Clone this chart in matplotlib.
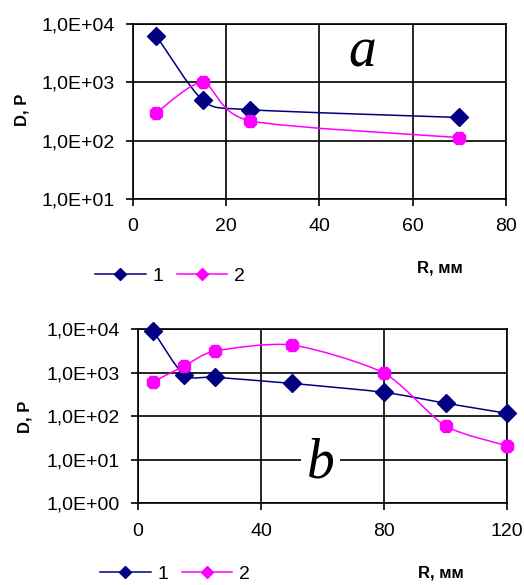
import numpy as np
import matplotlib
matplotlib.use("Agg")
import matplotlib.pyplot as plt
from matplotlib.path import Path
from matplotlib.patches import PathPatch
from matplotlib.lines import Line2D
from matplotlib.ticker import FixedLocator, FixedFormatter, NullLocator

plt.rcParams['font.family'] = ['Liberation Sans', 'DejaVu Sans']

# ---- data ----
r_a = [5, 15, 25, 70]
d_a1 = [6300, 490, 340, 250]
d_a2 = [300, 1000, 220, 113]

r_b = [5, 15, 25, 50, 80, 100, 120]
d_b1 = [9100, 890, 790, 570, 355, 200, 117]
d_b2 = [625, 1430, 3150, 4350, 980, 60, 21]

yticks_a = [1e1, 1e2, 1e3, 1e4]
ylabels_a = ["1,0E+01", "1,0E+02", "1,0E+03", "1,0E+04"]
xticks_a = [0, 20, 40, 60, 80]

yticks_b = [1e0, 1e1, 1e2, 1e3, 1e4]
ylabels_b = ["1,0E+00", "1,0E+01", "1,0E+02", "1,0E+03", "1,0E+04"]
xticks_b = [0, 40, 80, 120]

series_names = ["1", "2"]
c1 = "#000080"
c2 = "#FF00FF"

fig = plt.figure(figsize=(5.24, 5.85), dpi=100)


def smooth_path(x, y, k=1.0 / 8.0):
    # smoothed line: cubic Bezier in (x, log10 y) space
    lx = np.asarray(x, float)
    ly = np.log10(np.asarray(y, float))
    n = len(lx)
    verts = [(lx[0], ly[0])]
    codes = [Path.MOVETO]
    for i in range(n - 1):
        p0 = np.array([lx[max(i - 1, 0)], ly[max(i - 1, 0)]])
        p1 = np.array([lx[i], ly[i]])
        p2 = np.array([lx[i + 1], ly[i + 1]])
        p3 = np.array([lx[min(i + 2, n - 1)], ly[min(i + 2, n - 1)]])
        c_a = p1 + (p2 - p0) * k
        c_b = p2 - (p3 - p1) * k
        verts += [tuple(c_a), tuple(c_b), tuple(p2)]
        codes += [Path.CURVE4] * 3
    verts = [(vx, 10 ** vy) for vx, vy in verts]
    return Path(verts, codes)


def setup(ax, xlim, xticks, ylim, yticks, ylabels):
    ax.set_yscale('log')
    ax.set_xlim(*xlim)
    ax.set_ylim(*ylim)
    ax.xaxis.set_major_locator(FixedLocator(xticks))
    ax.yaxis.set_major_locator(FixedLocator(yticks))
    ax.yaxis.set_major_formatter(FixedFormatter(ylabels))
    ax.yaxis.set_minor_locator(NullLocator())
    ax.xaxis.set_minor_locator(NullLocator())
    ax.grid(True, color='black', lw=1.2)
    for s in ax.spines.values():
        s.set_color('black')
        s.set_linewidth(1.2)
    ax.tick_params(axis='y', direction='out', length=5, width=1.2,
                   labelsize=14, pad=8)
    ax.tick_params(axis='x', direction='out', length=5, width=1.2,
                   labelsize=14, pad=9)


def draw_series(ax, x, y, color, marker, ms):
    ax.add_patch(PathPatch(smooth_path(x, y), facecolor='none',
                           edgecolor=color, lw=1.1, zorder=3))
    ax.plot(x, y, ls='none', marker=marker, color=color, ms=ms,
            mec=color, zorder=4, clip_on=False)


# ---- panel a ----
axA = fig.add_axes([0.2538, 0.6598, 0.7118, 0.2991])
setup(axA, (0, 80), xticks_a, (1e1, 1e4), yticks_a, ylabels_a)
draw_series(axA, r_a, d_a1, c1, 'D', 9)
draw_series(axA, r_a, d_a2, c2, '8', 10)
axA.text(0.614, 0.84, "a", transform=axA.transAxes, ha='center',
         va='center', fontsize=40, style='italic',
         family='Liberation Serif')

# ---- panel b ----
axB = fig.add_axes([0.2634, 0.1397, 0.7042, 0.2974])
setup(axB, (0, 120), xticks_b, (1e0, 1e4), yticks_b, ylabels_b)
draw_series(axB, r_b, d_b1, c1, 'D', 9)
draw_series(axB, r_b, d_b2, c2, '8', 10)
axB.text(0.495, 0.23, "b", transform=axB.transAxes, ha='center',
         va='center', fontsize=40, style='italic',
         family='Liberation Serif', zorder=5,
         bbox=dict(facecolor='white', edgecolor='none', pad=4))

# ---- axis labels ----
fig.text(22 / 524, 1 - 110 / 585, "D, P", rotation=90, ha='center',
         va='center', fontsize=12, fontweight='bold')
fig.text(25 / 524, 1 - 417 / 585, "D, P", rotation=90, ha='center',
         va='center', fontsize=12, fontweight='bold')
fig.text(440 / 524, 1 - 268 / 585, "R, мм", ha='center', va='center',
         fontsize=12, fontweight='bold')
fig.text(441 / 524, 1 - 573 / 585, "R, мм", ha='center', va='center',
         fontsize=12, fontweight='bold')

# ---- legends ----
handles = [Line2D([], [], color=c1, marker='D', ms=6, lw=1.1),
           Line2D([], [], color=c2, marker='D', ms=6, lw=1.1)]
for (lx, ly) in [(95 / 524, 1 - 276 / 585), (100 / 524, 1 - 574 / 585)]:
    fig.legend(handles, series_names, loc='center left',
               bbox_to_anchor=(lx, ly), ncol=2, frameon=False,
               fontsize=14, handlelength=2.6, handletextpad=0.35,
               columnspacing=0.7, borderaxespad=0, borderpad=0)

fig.savefig("out.png", dpi=100)
